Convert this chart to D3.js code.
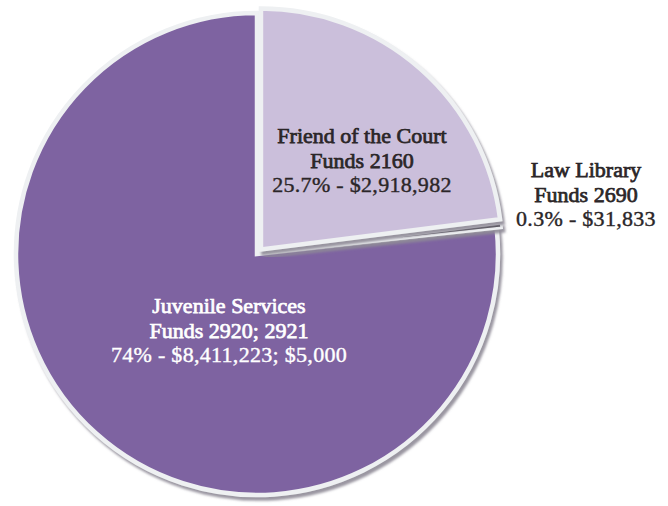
<!DOCTYPE html>
<html>
<head>
<meta charset="utf-8">
<script src="https://cdn.jsdelivr.net/npm/d3@7/dist/d3.min.js"></script>
<style>
  html, body { margin: 0; padding: 0; background: #ffffff; }
  svg { display: block; }
</style>
</head>
<body>
<div id="chart"></div>
<script>
// ---- data ----
const categories = ["Friend of the Court", "Law Library", "Juvenile Services"];
const fundLines  = ["Funds 2160", "Funds 2690", "Funds 2920; 2921"];
const valueLines = ["25.7% - $2,918,982", "0.3% - $31,833", "74% - $8,411,223; $5,000"];
// slice shares as drawn (angle of each slice in the picture, percent)
const sliceShares = [23.0, 0.3, 76.7];

// ---- styling / layout ----
const W = 668, H = 506;
const cx = 257, cy = 254, R = 241;
const fills = ["#cbbfdb", "#4a4650", "#7e63a1"];
const explode = [6, 5, 0];
const textColors = ["#2b2628", "#2b2628", "#ffffff"];
const labelPos = [[362, 143], [586, 177], [229, 313]]; // center x, first baseline
const lineGap = 24.5;

const svg = d3.select("#chart").append("svg")
  .attr("width", W).attr("height", H);

const defs = svg.append("defs");
const f = defs.append("filter").attr("id", "shadow")
  .attr("x", "-10%").attr("y", "-10%").attr("width", "120%").attr("height", "120%");
f.append("feDropShadow").attr("dx", 2.5).attr("dy", 3.5)
  .attr("stdDeviation", 0.8).attr("flood-color", "#8f8a97").attr("flood-opacity", 0.9);

const pie = d3.pie().sort(null).value(d => d);
const arcs = pie(sliceShares);
const arc = d3.arc().innerRadius(0).outerRadius(R);

const g = svg.append("g").attr("transform", `translate(${cx},${cy})`);

// draw juvenile first, then law library, then friend
const order = [2, 1, 0];
order.forEach(i => {
  const a = arcs[i];
  const mid = (a.startAngle + a.endAngle) / 2;
  const dx = Math.sin(mid) * explode[i];
  const dy = -Math.cos(mid) * explode[i];
  g.append("path")
    .attr("d", arc(a))
    .attr("transform", `translate(${dx},${dy})`)
    .attr("fill", fills[i])
    .attr("stroke", "#eef0f2")
    .attr("stroke-width", i === 1 ? 2.6 : 4.5)
    .attr("stroke-linejoin", "miter")
    .attr("filter", "url(#shadow)");
});

// ---- labels ----
categories.forEach((c, i) => {
  const t = svg.append("text")
    .attr("text-anchor", "middle")
    .attr("font-family", "'Liberation Serif', 'Times New Roman', serif")
    .attr("font-size", 22)
    .attr("fill", textColors[i])
    .attr("stroke", textColors[i]);
  [c, fundLines[i], valueLines[i]].forEach((line, k) => {
    t.append("tspan")
      .attr("x", labelPos[i][0])
      .attr("y", labelPos[i][1] + k * lineGap)
      .attr("letter-spacing", k === 2 ? 0.3 : 0)
      .attr("stroke-width", k < 2 ? 0.75 : 0.4)
      .text(line);
  });
});
</script>
</body>
</html>
